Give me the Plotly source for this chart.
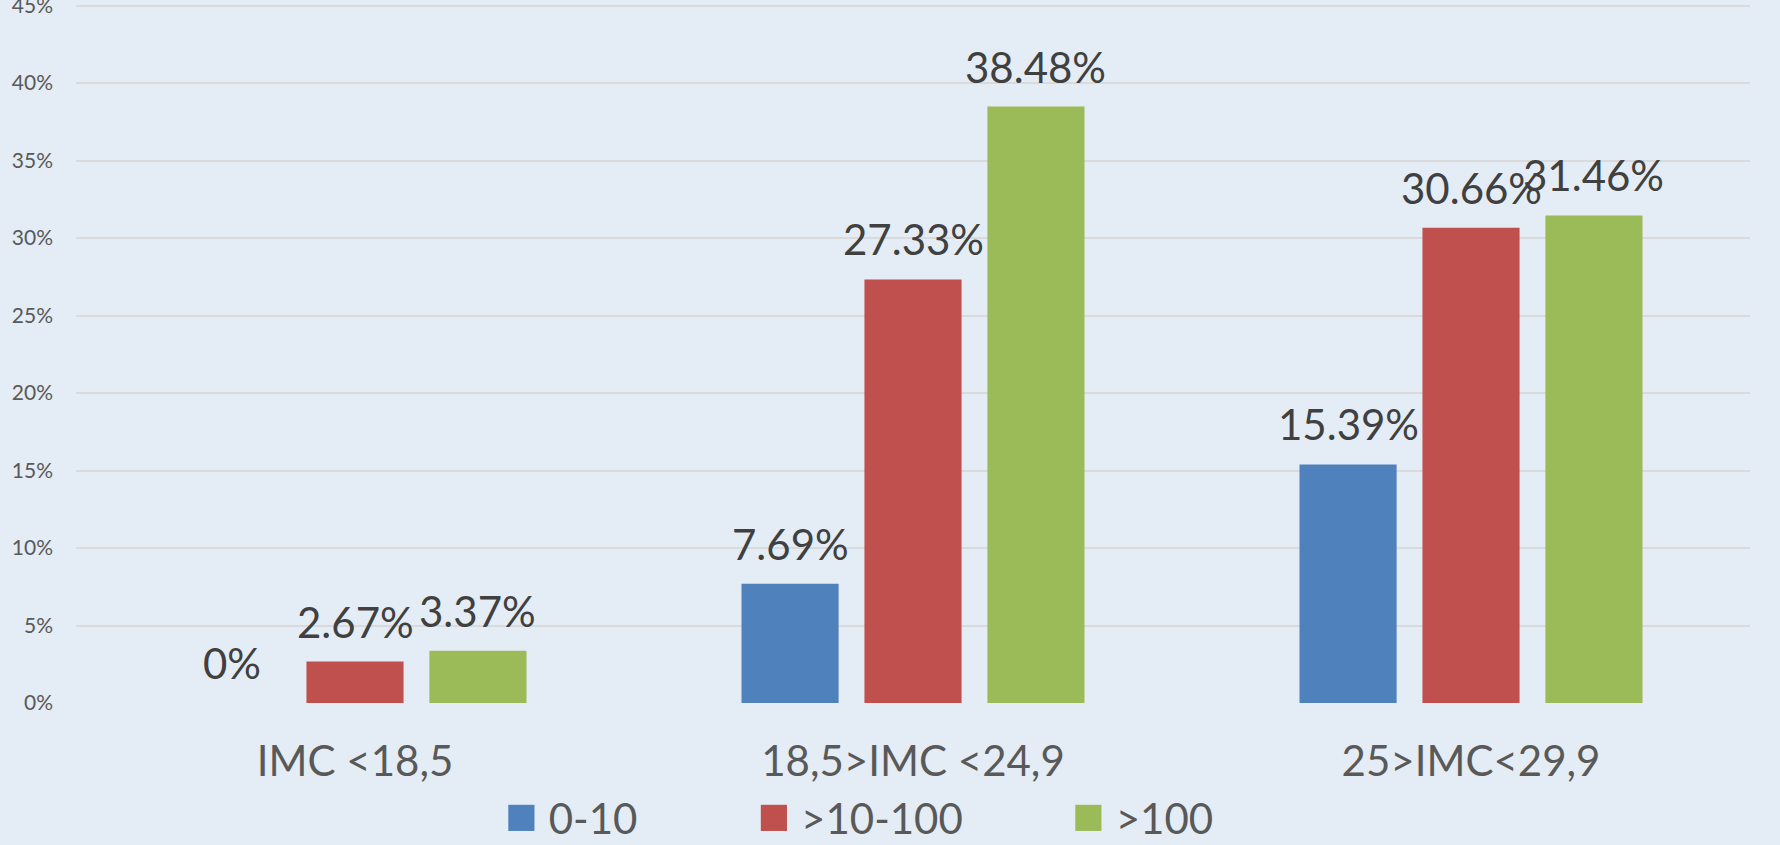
import plotly.graph_objects as go

categories = ["IMC <18,5", "18,5>IMC <24,9", "25>IMC<29,9"]
series_names = ["0-10", ">10-100", ">100"]
values_0_10 = [0, 7.69, 15.39]
values_10_100 = [2.67, 27.33, 30.66]
values_100 = [3.37, 38.48, 31.46]
y_ticks = [0, 5, 10, 15, 20, 25, 30, 35, 40, 45]

series_values = [values_0_10, values_10_100, values_100]
colors = ["#4F81BD", "#C0504D", "#9BBB59"]

BG = "#E4ECF5"
FONT = "Lato, 'Open Sans', sans-serif"
BARGAP = 0.339
GROUPGAP = 0.21

fig = go.Figure()
for name, vals, col in zip(series_names, series_values, colors):
    fig.add_trace(go.Bar(
        x=categories, y=vals, name=name, showlegend=False,
        marker=dict(color=col, line=dict(width=0)),
        hoverinfo="x+y",
    ))

# legend entries with large square glyphs
pads = ["\u00a0" * 7, "\u00a0" * 6, ""]
for name, col, pad in zip(series_names, colors, pads):
    label = f'<span style="color:{col};font-size:54px">\u25A0</span> {name}' + pad
    fig.add_trace(go.Scatter(
        x=[None], y=[None], mode="markers", name=label,
        marker=dict(color="rgba(0,0,0,0)", size=1, line=dict(width=0)),
        showlegend=True, hoverinfo="skip",
    ))

slot = (1 - BARGAP) / len(series_names)
annotations = []
for j, vals in enumerate(series_values):
    for i, v in enumerate(vals):
        annotations.append(dict(
            x=i + (j - 1) * slot, y=v, xref="x", yref="y",
            text=f"{v:g}%", showarrow=False, yanchor="bottom", xanchor="center",
            yshift=13,
            font=dict(family=FONT, size=42, color="#404040"),
        ))

fig.update_layout(
    width=1780, height=845,
    margin=dict(l=76, r=30, t=4, b=142, autoexpand=False),
    paper_bgcolor=BG, plot_bgcolor=BG,
    barmode="group", bargap=BARGAP, bargroupgap=GROUPGAP,
    font=dict(family=FONT, color="#595959"),
    annotations=annotations,
    legend=dict(
        orientation="h", x=0.4575, xanchor="center", y=-0.164, yanchor="middle",
        font=dict(family=FONT, size=42, color="#595959"),
        bgcolor="rgba(0,0,0,0)", itemwidth=30,
    ),
    xaxis=dict(
        type="category", showgrid=False, zeroline=False, showline=False,
        ticks="", tickfont=dict(family=FONT, size=42, color="#595959"),
        ticklabelstandoff=30, automargin=False,
    ),
    yaxis=dict(
        range=[0, 45.1], tickvals=y_ticks, ticktext=[f"{t}%" for t in y_ticks],
        showgrid=True, gridcolor="#D9DADC", gridwidth=2,
        zeroline=False, showline=False, ticks="",
        tickfont=dict(family=FONT, size=21, color="#595959"),
        ticklabelstandoff=22, automargin=False, ticklabeloverflow="allow",
    ),
)

fig.write_html(
    "out.html",
    config={"displayModeBar": False},
    post_script="document.body.style.margin='0';document.body.style.overflow='hidden';",
)
